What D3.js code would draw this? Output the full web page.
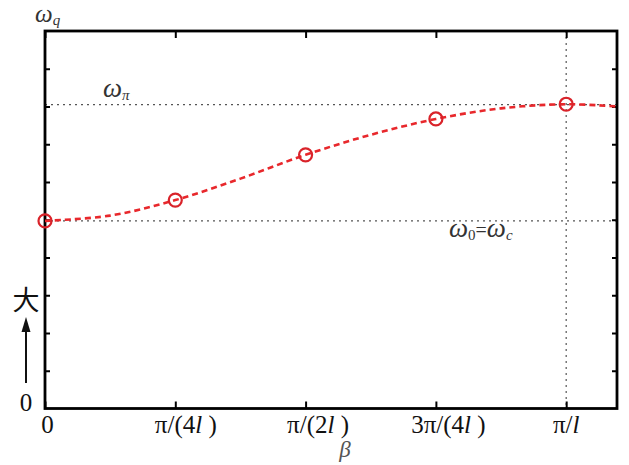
<!DOCTYPE html>
<html>
<head>
<meta charset="utf-8">
<script src="https://cdn.jsdelivr.net/npm/d3@7"></script>
<style>
  body { margin: 0; background: #fff; }
  svg { display: block; }
</style>
</head>
<body>
<svg id="chart" width="629" height="465"></svg>
<script>
// beta in units of pi/(4l), omega in arbitrary tick units
var beta = [0, 0.5, 1, 1.5, 2, 2.5, 3, 3.5, 4, 4.39];
var omega = [4.97, 5.11, 5.52, 6.09, 6.72, 7.25, 7.67, 7.95, 8.06, 8.0];
var markBeta = [0, 1, 2, 3, 4];
var omega0 = 4.97;
var omegaPi = 8.05;
var xTicks = [0, 1, 2, 3, 4];
var yTicks = [1, 2, 3, 4, 5, 6, 7, 8, 9];
var xLabels = [["0"], ["π/(4", "l", " )"], ["π/(2", "l", " )"], ["3π/(4", "l", " )"], ["π/", "l", ""]];
var xLabelShift = [2.5, 10.5, 12.5, 12.5, 0];

var svg = d3.select("#chart");
var pL = 45, pR = 617, pT = 31, pB = 408.5;

var x = d3.scaleLinear().domain([0, 4.39]).range([pL, pR]);
var y = d3.scaleLinear().domain([0, 10]).range([pB, pT]);

var red = "#e8282c";
var serif = "'Liberation Serif', 'DejaVu Serif', serif";

// reference lines
function dotted(x1, y1, x2, y2) {
  svg.append("line")
      .attr("x1", x1).attr("x2", x2)
      .attr("y1", y1).attr("y2", y2)
      .attr("stroke", "#555").attr("stroke-width", 1.2)
      .attr("stroke-dasharray", "2,4");
}
dotted(pL, y(omegaPi), pR, y(omegaPi));
dotted(pL, y(omega0), pR, y(omega0));
dotted(x(4), pT, x(4), pB);

// axes with inward ticks
svg.append("g").attr("transform", "translate(0," + pB + ")")
    .call(d3.axisBottom(x).tickValues(xTicks).tickSize(-7).tickFormat(""));
svg.append("g").attr("transform", "translate(0," + pT + ")")
    .call(d3.axisTop(x).tickValues(xTicks).tickSize(-7).tickFormat(""));
svg.append("g").attr("transform", "translate(" + pL + ",0)")
    .call(d3.axisLeft(y).tickValues(yTicks).tickSize(-5).tickFormat(""));
svg.append("g").attr("transform", "translate(" + pR + ",0)")
    .call(d3.axisRight(y).tickValues(yTicks).tickSize(-5).tickFormat(""));
svg.selectAll(".domain").remove();
svg.selectAll(".tick line").attr("stroke", "#000").attr("stroke-width", 2);

// frame
svg.append("rect")
    .attr("x", pL).attr("y", pT)
    .attr("width", pR - pL).attr("height", pB - pT)
    .attr("fill", "none").attr("stroke", "#000").attr("stroke-width", 2.8);

// curve
var pts = beta.map(function(b, i) { return [b, omega[i]]; });
var line = d3.line()
    .x(function(d) { return x(d[0]); })
    .y(function(d) { return y(d[1]); })
    .curve(d3.curveCatmullRom);
svg.append("path")
    .datum(pts)
    .attr("d", line)
    .attr("fill", "none")
    .attr("stroke", red)
    .attr("stroke-width", 2.6)
    .attr("stroke-dasharray", "6,4");

svg.selectAll("circle.mark")
    .data(pts.filter(function(d) { return markBeta.indexOf(d[0]) >= 0; }))
    .enter().append("circle")
    .attr("class", "mark")
    .attr("cx", function(d) { return x(d[0]); })
    .attr("cy", function(d) { return y(d[1]); })
    .attr("r", 6.5)
    .attr("fill", "none")
    .attr("stroke", "#d9232a")
    .attr("stroke-width", 2.2);

// x tick labels
xLabels.forEach(function(parts, i) {
  var t = svg.append("text")
      .attr("x", x(xTicks[i]) + xLabelShift[i])
      .attr("y", 433)
      .attr("text-anchor", "middle")
      .attr("font-family", serif)
      .attr("font-size", "25px")
      .attr("fill", "#111");
  parts.forEach(function(p, j) {
    t.append("tspan").text(p).attr("font-style", j === 1 ? "italic" : "normal");
  });
});

// beta axis title
svg.append("text")
    .attr("x", 345).attr("y", 457)
    .attr("text-anchor", "middle")
    .attr("font-family", serif).attr("font-style", "italic")
    .attr("font-size", "23px").attr("fill", "#555")
    .text("β");

// omega_q axis title
var wq = svg.append("text")
    .attr("x", 35).attr("y", 22)
    .attr("font-family", serif).attr("font-style", "italic")
    .attr("font-size", "25px").attr("fill", "#333");
wq.append("tspan").text("ω");
wq.append("tspan").text("q").attr("font-size", "15px").attr("dy", 3);

// omega_pi label
var wp = svg.append("text")
    .attr("x", 103).attr("y", 97)
    .attr("font-family", serif).attr("font-style", "italic")
    .attr("font-size", "27px").attr("fill", "#333");
wp.append("tspan").text("ω");
wp.append("tspan").text("π").attr("font-size", "15px").attr("dy", 3);

// omega_0 = omega_c label
var w0 = svg.append("text")
    .attr("x", 449).attr("y", 237)
    .attr("font-family", serif).attr("font-style", "italic")
    .attr("font-size", "27px").attr("fill", "#333");
w0.append("tspan").text("ω");
w0.append("tspan").text("0").attr("font-size", "15px").attr("font-style", "normal").attr("dy", 3);
w0.append("tspan").text("=").attr("font-size", "20px").attr("font-style", "normal").attr("dy", -3);
w0.append("tspan").text("ω");
w0.append("tspan").text("c").attr("font-size", "15px").attr("dy", 3);

// left side "大 ↑ 0"
svg.append("text")
    .attr("x", 26).attr("y", 310)
    .attr("text-anchor", "middle")
    .attr("font-family", "'Noto Sans CJK JP', sans-serif")
    .attr("font-size", "27px").attr("fill", "#111")
    .text("大");
svg.append("line")
    .attr("x1", 26).attr("x2", 26)
    .attr("y1", 383).attr("y2", 328)
    .attr("stroke", "#111").attr("stroke-width", 2);
svg.append("path")
    .attr("d", "M26,317 L21.5,332 L30.5,332 Z")
    .attr("fill", "#111");
svg.append("text")
    .attr("x", 26).attr("y", 411)
    .attr("text-anchor", "middle")
    .attr("font-family", serif)
    .attr("font-size", "25px").attr("fill", "#111")
    .text("0");
</script>
</body>
</html>
